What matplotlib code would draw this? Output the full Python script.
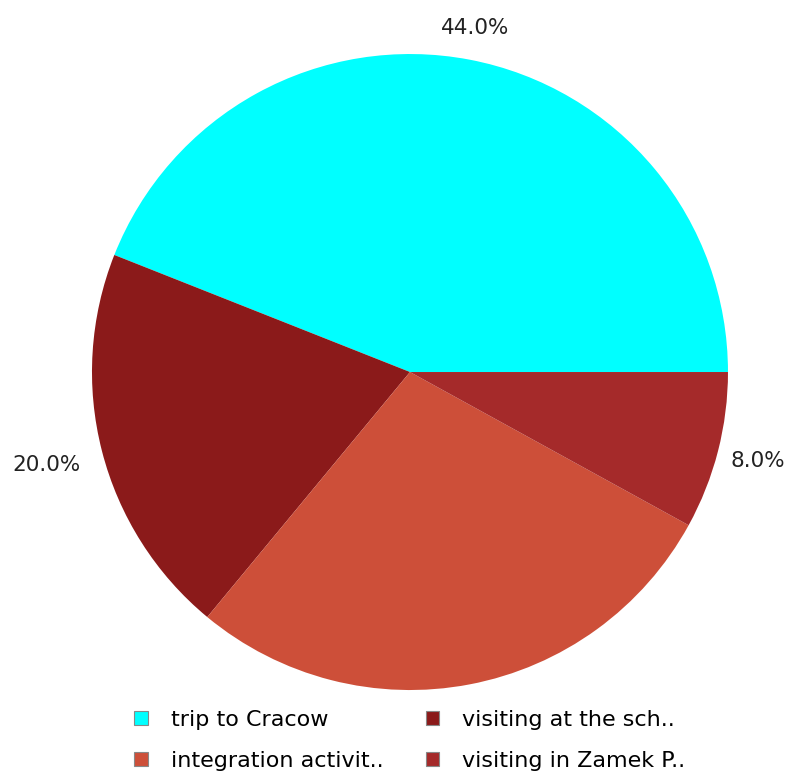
import numpy as np
import matplotlib.pyplot as plt
from matplotlib.patches import Patch

# slice data, in drawing order (counter-clockwise from 3 o'clock)
labels = ["trip to Cracow", "visiting at the sch..", "integration activit..", "visiting in Zamek P.."]
values = [44.0, 20.0, 28.0, 8.0]
colors = ["#00FFFF", "#8B1A1A", "#CD4F39", "#A52A2A"]
# the 28% label is not shown in the original
shown = [True, True, False, True]
label_dist = [1.10, 1.18, 1.12, 1.13]

fig = plt.figure(figsize=(7.95, 7.74), dpi=100)
ax = fig.add_axes([0.1157, 0.1085, 0.8, 0.8217])

wedges, _ = ax.pie(values, colors=colors, startangle=0, counterclock=True,
                   wedgeprops=dict(linewidth=0))
ax.set_aspect("auto")
ax.set_xlim(-1, 1)
ax.set_ylim(-1, 1)

total = sum(values)
for w, v, s, d in zip(wedges, values, shown, label_dist):
    if not s:
        continue
    ang = np.deg2rad((w.theta1 + w.theta2) / 2)
    ax.text(d * np.cos(ang), d * np.sin(ang), f"{v / total * 100:.1f}%",
            ha="center", va="center", fontsize=15.5, color="#222222",
            clip_on=False)

# legend, row-wise order in two columns
order = [0, 2, 1, 3]
handles = [Patch(facecolor=colors[i], edgecolor="#888888", linewidth=0.8) for i in order]
fig.legend(handles, [labels[i] for i in order], ncol=2, frameon=False,
           loc="center", bbox_to_anchor=(0.5155, 0.0435), fontsize=16,
           handlelength=0.6, handleheight=0.6, handletextpad=1.05,
           columnspacing=1.9, labelspacing=0.94)

fig.savefig("out.png", dpi=100)
